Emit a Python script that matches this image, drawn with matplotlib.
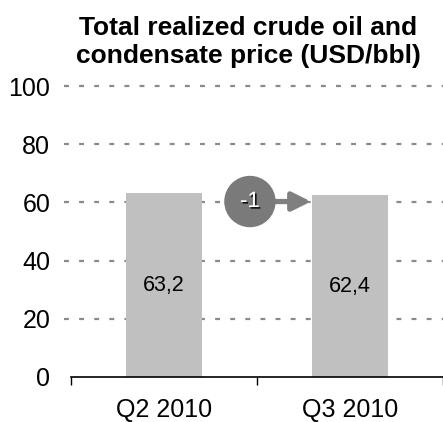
import matplotlib.pyplot as plt
from matplotlib.patches import Ellipse
import matplotlib.patheffects as pe

plt.rcParams['font.family'] = ['Liberation Sans', 'DejaVu Sans']

quarters = ['Q2 2010', 'Q3 2010']
prices = [63.2, 62.4]
price_labels = ['63,2', '62,4']
change_label = '-1'
yticks = [0, 20, 40, 60, 80, 100]

fig = plt.figure(figsize=(4.43, 4.22), dpi=100)
ax = fig.add_axes([71 / 443, 45 / 422, 372 / 443, 291 / 422])

x = list(range(len(quarters)))
for t in yticks[1:]:
    ax.plot([-0.535, 1.5], [t, t], color='#8a8a8a', lw=1.6, ls=(0, (2.2, 4.6)), zorder=1, clip_on=False)
ax.bar(x, prices, width=0.41, color='#c0c0c0', zorder=2)
for i, lab in enumerate(price_labels):
    ax.text(x[i], prices[i] / 2, lab, ha='center', va='center', fontsize=15.5, zorder=3)

# change bubble with arrow (sizes in px converted to data units)
px_x = 2 / 372
px_y = 100 / 291
cx, cy = 0.462, 60.3
ax.annotate('', xy=(0.79, cy), xytext=(cx, cy),
            arrowprops=dict(arrowstyle='-|>,head_length=1.1,head_width=0.55', color='#7f7f7f', lw=3.8,
                            shrinkA=0, shrinkB=0),
            zorder=4)
ax.add_patch(Ellipse((cx, cy), width=50 * px_x, height=50 * px_y, color='#7a7a7a', zorder=5))
ax.text(cx, cy, change_label, ha='center', va='center', fontsize=16, color='white', zorder=6,
        path_effects=[pe.withSimplePatchShadow(offset=(1.2, -1.2), shadow_rgbFace='#111111', alpha=1.0)])

ax.set_xlim(-0.5, 1.5)
ax.set_ylim(0, 100)
ax.set_yticks(yticks)
ax.set_yticklabels([str(t) for t in yticks], fontsize=18)
ax.set_xticks(x)
ax.set_xticklabels(quarters, fontsize=18)
ax.set_xticks([-0.5, 0.5, 1.5], minor=True)
ax.tick_params(axis='y', length=0, pad=15)
ax.tick_params(axis='x', which='major', length=0, pad=15)
ax.tick_params(axis='x', which='minor', length=5.5, width=1, direction='out')
for s in ['top', 'right', 'left']:
    ax.spines[s].set_visible(False)
ax.spines['bottom'].set_linewidth(1.2)

fig.text(0.56, 0.963, 'Total realized crude oil and\ncondensate price (USD/bbl)', ha='center', va='top',
         fontsize=19, fontweight='bold', linespacing=1.25)

fig.savefig('out.png', dpi=100)
